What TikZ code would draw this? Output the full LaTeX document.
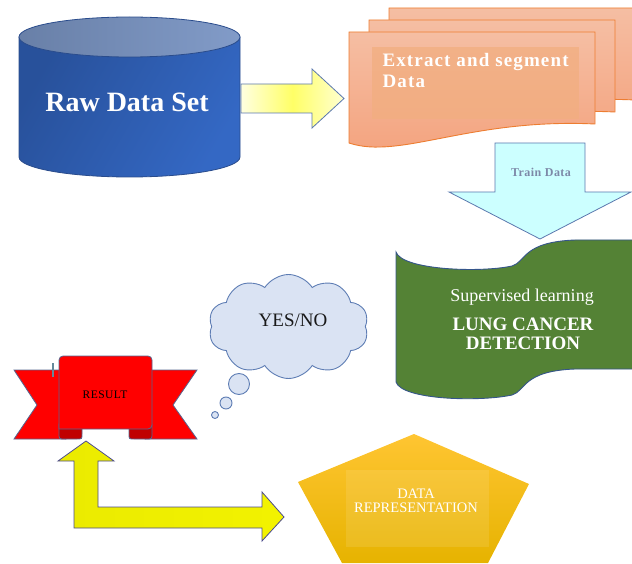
\documentclass[tikz,border=0pt]{standalone}
\usepackage{fontspec}
\setmainfont{Liberation Serif}
\usepackage{tikz}
\usetikzlibrary{shapes,shadows,arrows}

\definecolor{rawdark}{HTML}{28519B}
\definecolor{rawlight}{HTML}{3468C4}
\definecolor{rawtop}{HTML}{7B96C5}
\definecolor{rawedge}{HTML}{2A4C8C}
\definecolor{arrowedge}{HTML}{5B78AE}
\definecolor{docedge}{HTML}{ED7D31}
\definecolor{doctop}{HTML}{F5BEA3}
\definecolor{docbot}{HTML}{F4A27D}
\definecolor{docinner}{HTML}{F2AE80}
\definecolor{trainfill}{HTML}{CCFFFF}
\definecolor{traintext}{HTML}{7D89A8}
\definecolor{tapegreen}{HTML}{548235}
\definecolor{tapeedge}{HTML}{35558A}
\definecolor{cloudfill}{HTML}{DAE3F3}
\definecolor{cloudedge}{HTML}{5E7DB4}
\definecolor{ribbonred}{HTML}{FF0000}
\definecolor{folddark}{HTML}{C00000}
\definecolor{ribbonedge}{HTML}{56658F}
\definecolor{goldtop}{HTML}{FFC532}
\definecolor{goldbot}{HTML}{E6B300}

\tikzset{
  blockarrow/.style={draw=arrowedge, line width=0.8pt, line join=miter},
  docpage/.style={draw=docedge, line width=0.9pt, top color=doctop, bottom color=docbot},
  bubble/.style={draw=cloudedge, fill=cloudfill, circle, line width=0.9pt, inner sep=0pt}
}

\begin{document}
\begin{tikzpicture}[x=1pt,y=-1pt]
	\useasboundingbox (0,0) rectangle (632,564);
	% raw data set
	\path [draw=rawedge, line width=0.8pt, shading=axis, left color=rawdark, right color=rawlight, shading angle=60] (19,37) -- (19,157) arc [start angle=180, end angle=360, x radius=110.5pt, y radius=20pt] -- (240,37) -- cycle;
	\path [draw=rawedge, line width=0.8pt, left color=rawtop!85!black, right color=rawtop!95!white] (129.5,37) ellipse [x radius=110.5pt, y radius=20pt];
	\node [text=white, font=\fontsize{28}{30}\selectfont\bfseries] (raw) at (127,102) {Raw Data Set};
	% yellow arrow to the documents
	\path [blockarrow, left color=yellow!12, right color=yellow!18, middle color=yellow!60] (241,84) -- (312,84) -- (312,69) -- (344,98.5) -- (312,128) -- (312,113) -- (241,113) -- cycle;
	% stacked documents
	\foreach \dx/\dy in {40/-24, 20/-12, 0/0}
		\path [docpage, shift={(349+\dx,32+\dy)}] (0,0) -- (246,0) -- (246,92) .. controls (121,86) and (51,128) .. (0,111) -- cycle;
	\fill [docinner, opacity=0.75] (372,47) rectangle (579,119);
	\node [anchor=north west, align=left, text=white, font=\fontsize{19}{21}\selectfont\bfseries\addfontfeature{LetterSpace=6}] (extract) at (379,50) {Extract and segment\\Data};
	% train data arrow
	\path [blockarrow, fill=trainfill] (495,143) -- (585,143) -- (585,192) -- (631,192) -- (540,239) -- (449,192) -- (495,192) -- cycle;
	\node [text=traintext, font=\fontsize{12}{14}\selectfont\bfseries\addfontfeature{LetterSpace=4}] (train) at (541,172) {Train Data};
	% supervised learning tape
	\path [draw=tapeedge, fill=tapegreen, line width=0.9pt] (633,240) -- (575,240) .. controls (522,242) and (526,262) .. (512,266) .. controls (480,273) and (402,270) .. (396,252) -- (396,382) .. controls (402,400) and (480,402) .. (512,395) .. controls (526,391) and (522,371) .. (575,369) -- (633,369);
	\node [text=white, font=\fontsize{18}{20}\selectfont] (learning) at (522,297) {Supervised learning};
	\node [text=white, align=center, font=\fontsize{19}{19}\selectfont\bfseries] (detect) at (523,334) {LUNG CANCER\\DETECTION};
	% thought cloud
	\node [draw=cloudedge, fill=cloudfill, cloud, cloud puffs=10, cloud puff arc=115, aspect=1.55, minimum width=160pt, minimum height=104pt, line width=0.9pt] (cloud) at (288.5,326.5) {};
	\node [font=\fontsize{19}{21}\selectfont, text=black!90] (yesno) at (293,320) {YES/NO};
	\foreach \n/\x/\y/\r in {1/239/384/21pt, 2/226/403/12pt, 3/215/415/7pt}
		\node [bubble, minimum size=\r] (bub\n) at (\x,\y) {};
	% result ribbon
	\path [draw=ribbonedge, fill=ribbonred, line width=0.8pt, line join=miter] (14,370) -- (66,370) -- (66,439) -- (14,439) -- (37,405) -- cycle;
	\path [draw=ribbonedge, fill=ribbonred, line width=0.8pt, line join=miter] (197,370) -- (145,370) -- (145,439) -- (197,439) -- (173,405) -- cycle;
	\path [draw=ribbonedge, fill=folddark, line width=0.8pt] (59,424) -- (59,433) .. controls (59,439) .. (65,439) -- (77,439) .. controls (82,439) .. (82,434) -- (82,426) -- cycle;
	\path [draw=ribbonedge, fill=folddark, line width=0.8pt] (152,424) -- (152,433) .. controls (152,439) .. (146,439) -- (134,439) .. controls (129,439) .. (129,434) -- (129,426) -- cycle;
	\path [draw=ribbonedge, fill=ribbonred, line width=0.8pt, rounded corners=4pt] (59,429) -- (59,356) -- (152,356) -- (152,429) [sharp corners] -- cycle;
	\draw [black!40!cyan!60!gray, line width=1.2pt] (53,363) -- (53,377);
	\node [font=\fontsize{11.5}{13}\selectfont\addfontfeature{LetterSpace=4}, text=black] (result) at (105,395) {RESULT};
	% result <-> data representation
	\path [draw=black!35!blue!40!gray, line width=0.8pt, line join=miter, left color=yellow!92!black, middle color=yellow!70!black, right color=yellow!95!black] (86,441) -- (114,461) -- (98,461) -- (98,507) -- (262,507) -- (262,492) -- (284,517) -- (262,541) -- (262,528) -- (74,528) -- (74,461) -- (58,461) -- cycle;
	% data representation
	\path [top color=goldtop, bottom color=goldbot] (414,434) -- (529,484) -- (488,563) -- (342,563) -- (298,482) -- cycle;
	\fill [white, opacity=0.1] (346,470) rectangle (489,547);
	\node [text=white, align=center, font=\fontsize{14.5}{14}\selectfont] (datarep) at (416,501) {DATA\\REPRESENTATION};
\end{tikzpicture}
\end{document}
